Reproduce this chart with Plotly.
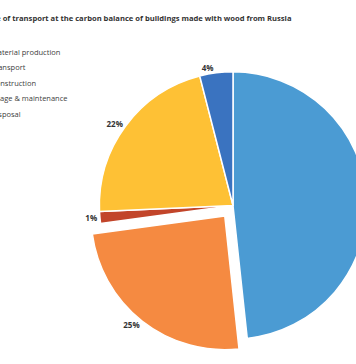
import plotly.graph_objects as go

# ---- data ----
labels = ["Material production", "Transport", "Construction", "Usage & maintenance", "Disposal"]
values = [48.3, 24.55, 1.45, 21.7, 4.0]
colors = ["#4B9BD3", "#F58A41", "#C2452A", "#FEC135", "#3A73C0"]
pulls = [0, 0.1, 0, 0, 0]
title_text = "Share of transport at the carbon balance of buildings made with wood from Russia"

# ---- layout constants (pixels) ----
W, H = 400, 364
ML, MT, PW, PH = 85.5, 58, 295, 295
MR = W - ML - PW
MB = H - MT - PH


def px_x(px):
    return (px - ML) / PW


def px_y(py):
    return (MT + PH - py) / PH


fig = go.Figure(
    go.Pie(
        labels=labels,
        values=values,
        sort=False,
        direction="clockwise",
        rotation=0,
        pull=pulls,
        marker=dict(colors=colors, line=dict(color="white", width=1.5)),
        textposition="outside",
        texttemplate="%{percent:.0%}",
        textfont=dict(family="Open Sans", size=8, color="#333333", weight="bold"),
        hoverinfo="label+percent",
        showlegend=False,
    )
)

annotations = [
    dict(
        text=title_text,
        xref="paper", yref="paper",
        x=px_x(294.5), y=px_y(17.5),
        xanchor="right", yanchor="middle",
        showarrow=False,
        font=dict(family="Open Sans", size=7.6, color="#333333", weight="bold"),
    )
]
for i, lab in enumerate(labels):
    annotations.append(
        dict(
            text=lab,
            xref="paper", yref="paper",
            x=px_x(-12), y=px_y(51.5 + i * 15.5),
            xanchor="left", yanchor="middle",
            showarrow=False,
            font=dict(family="Open Sans", size=7.5, color="#404040"),
        )
    )

fig.update_layout(
    width=W,
    height=H,
    margin=dict(l=ML, r=MR, t=MT, b=MB, autoexpand=False),
    paper_bgcolor="white",
    plot_bgcolor="white",
    annotations=annotations,
    font=dict(family="Open Sans"),
)

fig.write_html(
    "out.html",
    config={"displayModeBar": False},
    post_script=(
        "document.body.style.margin='0';"
        "document.body.style.overflow='hidden';"
        "document.documentElement.style.overflow='hidden';"
    ),
)
